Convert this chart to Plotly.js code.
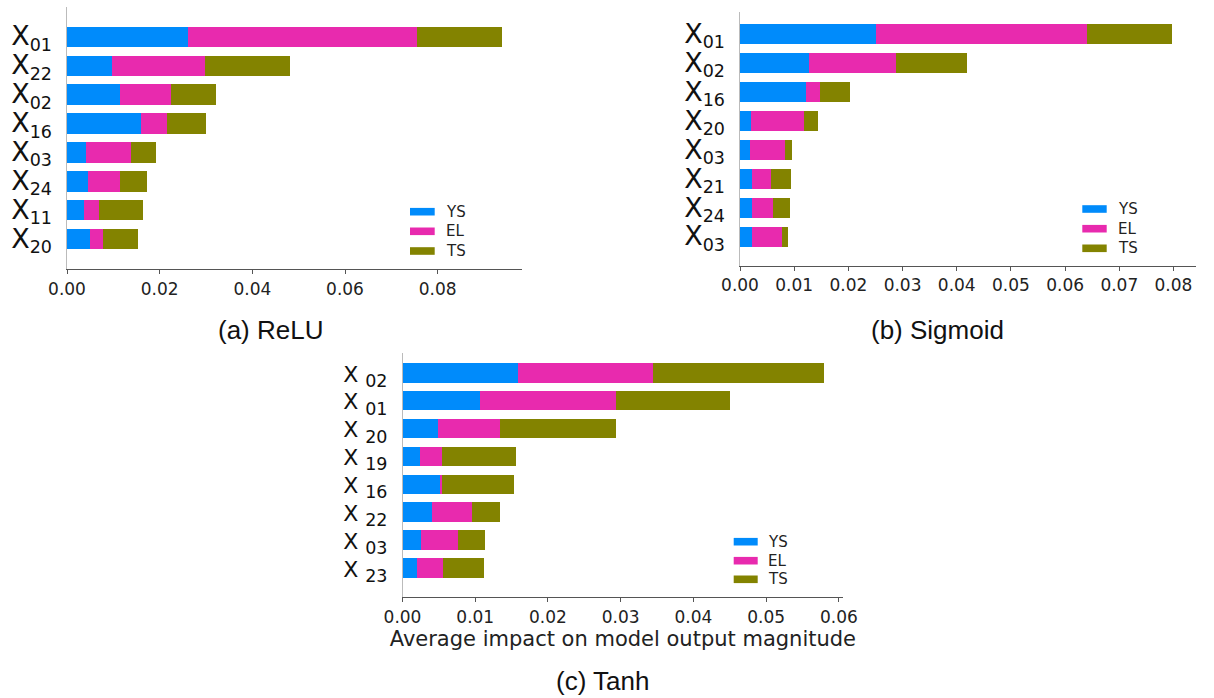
<!DOCTYPE html>
<html>
<head>
<meta charset="utf-8">
<script src="https://cdn.plot.ly/plotly-3.0.1.min.js"></script>
<style>
  html, body { margin: 0; padding: 0; background: #ffffff; }
  #chart { width: 1214px; height: 698px; }
</style>
</head>
<body>
<div id="chart"></div>
<script>
// Output targets and their colours
const outputs = ['YS', 'EL', 'TS'];
const outputColors = ['#008bfb', '#e82aae', '#838300'];

// (a) ReLU — features ordered from top to bottom
const reluFeatures = ['01', '22', '02', '16', '03', '24', '11', '20'];
const reluYS = [0.0262, 0.0097, 0.0115, 0.0159, 0.0042, 0.0045, 0.0037, 0.0049];
const reluEL = [0.0493, 0.0200, 0.0110, 0.0056, 0.0097, 0.0070, 0.0031, 0.0028];
const reluTS = [0.0183, 0.0184, 0.0097, 0.0086, 0.0052, 0.0058, 0.0097, 0.0076];

// (b) Sigmoid
const sigmoidFeatures = ['01', '02', '16', '20', '03', '21', '24', '03'];
const sigmoidYS = [0.0251, 0.0127, 0.0121, 0.0020, 0.0019, 0.0023, 0.0023, 0.0023];
const sigmoidEL = [0.0389, 0.0161, 0.0026, 0.0098, 0.0064, 0.0034, 0.0038, 0.0055];
const sigmoidTS = [0.0158, 0.0130, 0.0056, 0.0026, 0.0013, 0.0038, 0.0031, 0.0011];

// (c) Tanh
const tanhFeatures = ['02', '01', '20', '19', '16', '22', '03', '23'];
const tanhYS = [0.0159, 0.0107, 0.0049, 0.0024, 0.0052, 0.0040, 0.0025, 0.0020];
const tanhEL = [0.0186, 0.0187, 0.0085, 0.0030, 0.0002, 0.0055, 0.0051, 0.0035];
const tanhTS = [0.0234, 0.0156, 0.0159, 0.0102, 0.0099, 0.0039, 0.0038, 0.0057];

// Tick labels for x axes
const reluTicks = [0, 0.02, 0.04, 0.06, 0.08];
const sigmoidTicks = [0, 0.01, 0.02, 0.03, 0.04, 0.05, 0.06, 0.07, 0.08];
const tanhTicks = [0, 0.01, 0.02, 0.03, 0.04, 0.05, 0.06];

const captions = ['(a) ReLU', '(b) Sigmoid', '(c) Tanh'];
const xAxisTitle = 'Average impact on model output magnitude';

// ---- page geometry (pixels -> paper fractions) ----
const W = 1214, H = 698;
const fx = v => v / W;
const fy = v => 1 - v / H;

const TICK_FONT = 'DejaVu Sans';

function rowPositions(features) {
  return features.map((_, i) => features.length - 1 - i);
}

function panelTraces(features, series, suffix) {
  const pos = rowPositions(features);
  return series.map((vals, k) => ({
    type: 'bar',
    orientation: 'h',
    x: vals,
    y: pos,
    width: 0.7,
    xaxis: 'x' + suffix,
    yaxis: 'y' + suffix,
    name: outputs[k],
    marker: { color: outputColors[k], line: { width: 0 } },
    showlegend: false,
    hoverinfo: 'skip'
  }));
}

// Feature name: a large "X" followed by its two-digit index as a subscript
function featureLabel(code, xSize, spaced) {
  return '<span style="font-size:' + xSize + 'px">X' + (spaced ? ' ' : '') + '</span><sub>' + code + '</sub>';
}

function xAxis(domain, range, ticks, fmt, anchor) {
  return {
    domain: domain, range: range, anchor: anchor,
    tickmode: 'array', tickvals: ticks, ticktext: ticks.map(t => t.toFixed(fmt)),
    showline: true, linecolor: '#555555', linewidth: 1,
    ticks: 'outside', ticklen: 4, tickwidth: 1, tickcolor: '#555555',
    showgrid: false, zeroline: false, fixedrange: true,
    tickfont: { family: TICK_FONT, size: 17, color: '#222222' }
  };
}

function yAxis(domain, range, features, xSize, spaced, anchor) {
  return {
    domain: domain, range: range, anchor: anchor,
    tickmode: 'array', tickvals: rowPositions(features),
    ticktext: features.map(f => featureLabel(f, xSize, spaced)),
    showline: true, linecolor: '#bbbbbb', linewidth: 1,
    ticks: '', showgrid: false, zeroline: false, fixedrange: true,
    ticklabelstandoff: 9,
    tickfont: { family: TICK_FONT, size: 25, color: '#111111' }
  };
}

const data = [].concat(
  panelTraces(reluFeatures, [reluYS, reluEL, reluTS], ''),
  panelTraces(sigmoidFeatures, [sigmoidYS, sigmoidEL, sigmoidTS], '2'),
  panelTraces(tanhFeatures, [tanhYS, tanhEL, tanhTS], '3')
);

// Legend blocks: patch rectangles and labels in page pixels
const legendSpecs = [
  { x0: 410, x1: 434.7, tx: 444, rows: [211.7, 231.3, 251.0] },
  { x0: 1082.3, x1: 1106.7, tx: 1115.7, rows: [209.0, 228.7, 248.3] },
  { x0: 733.7, x1: 757.7, tx: 766, rows: [541.7, 560.7, 579.3] }
];

const shapes = [];
const annotations = [];
legendSpecs.forEach(spec => {
  outputs.forEach((name, k) => {
    const cy = spec.rows[k];
    shapes.push({
      type: 'rect', xref: 'paper', yref: 'paper',
      x0: fx(spec.x0), x1: fx(spec.x1), y0: fy(cy + 3.8), y1: fy(cy - 3.8),
      fillcolor: outputColors[k], line: { width: 0 }
    });
    annotations.push({
      xref: 'paper', yref: 'paper', x: fx(spec.tx), y: fy(cy),
      xanchor: 'left', yanchor: 'middle', showarrow: false,
      text: name, font: { family: TICK_FONT, size: 15, color: '#222222' }
    });
  });
});

// Panel captions
const captionPos = [[270, 330], [937, 330], [602, 681]];
captions.forEach((c, i) => {
  annotations.push({
    xref: 'paper', yref: 'paper', x: fx(captionPos[i][0]), y: fy(captionPos[i][1]),
    xanchor: 'center', yanchor: 'middle', showarrow: false, text: c,
    font: { family: 'Liberation Sans, Arial, sans-serif', size: 26, color: '#111111' }
  });
});

const xa3 = xAxis([fx(402.5), fx(843.3)], [0, 0.0606], tanhTicks, 2, 'y3');
xa3.title = { text: xAxisTitle, font: { family: TICK_FONT, size: 21, color: '#222222' }, standoff: 5 };

const layout = {
  width: W, height: H,
  margin: { l: 0, r: 0, t: 0, b: 0, pad: 0 },
  paper_bgcolor: '#ffffff', plot_bgcolor: '#ffffff',
  barmode: 'stack', bargap: 0,
  showlegend: false,
  xaxis: xAxis([fx(67), fx(522)], [0, 0.0982], reluTicks, 2, 'y'),
  yaxis: yAxis([fy(269.3), fy(7.3)], [-1.037, 8.016], reluFeatures, 27, false, 'x'),
  xaxis2: xAxis([fx(740), fx(1195.7)], [0, 0.0841], sigmoidTicks, 2, 'y2'),
  yaxis2: yAxis([fy(265.7), fy(11.7)], [-1.003, 7.78], sigmoidFeatures, 27, false, 'x2'),
  xaxis3: xa3,
  yaxis3: yAxis([fy(597.3), fy(353.3)], [-1.05, 7.70], tanhFeatures, 22, true, 'x3'),
  shapes: shapes,
  annotations: annotations
};

Plotly.newPlot('chart', data, layout, { staticPlot: true, displayModeBar: false });
</script>
</body>
</html>
